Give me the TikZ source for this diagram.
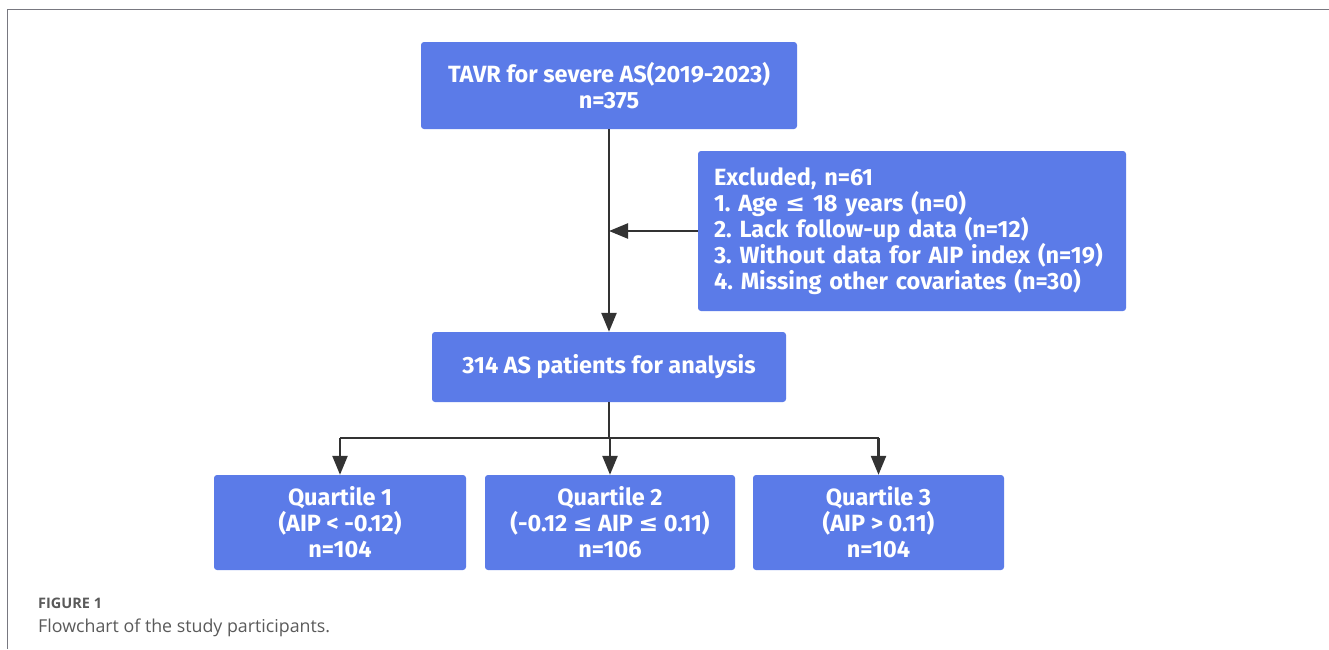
\documentclass[tikz,border=0pt]{standalone}
\usepackage{fontspec}
\setmainfont{Fira Sans}[BoldFont={* Bold}]
\newfontfamily\capfont{Open Sans}
\newfontfamily\symf{DejaVu Sans}
\usetikzlibrary{arrows.meta,positioning}
\definecolor{boxblue}{RGB}{91,123,232}
\definecolor{linegray}{RGB}{51,51,51}
\definecolor{framegray}{RGB}{120,120,128}
\definecolor{capgray}{RGB}{90,90,90}
\newcommand{\leqs}{{\symf\bfseries ≤}}
\frenchspacing
\begin{document}
\begin{tikzpicture}[x=1pt,y=-1pt,
  bluebox/.style={fill=boxblue,rounded corners=3pt,text=white,font=\fontsize{23.5}{26}\selectfont\bfseries,inner sep=0pt},
  conn/.style={draw=linegray,line width=2.4pt},
  arr/.style={conn,-{Triangle[length=19pt,width=15pt]}}]
\useasboundingbox (0,0) rectangle (1329,649);
\draw[framegray,line width=1.5pt] (1329,9.5) -- (7.5,9.5) -- (7.5,649);
% boxes
\node[bluebox,minimum width=376pt,minimum height=87pt,align=center] (top) at (609,85.5) {TAVR for severe AS(2019-2023)\\n=375};
\node[bluebox,minimum width=428pt,minimum height=160pt,align=left,text width=396pt] (exc) at (912,231) {Excluded, n=61\\1. Age \leqs{} 18 years (n=0)\\2. Lack follow-up data (n=12)\\3. Without data for AIP index (n=19)\\4. Missing other covariates (n=30)};
\node[bluebox,minimum width=354pt,minimum height=70pt] (mid) at (609,367) {314 AS patients for analysis};
\node[bluebox,minimum width=252pt,minimum height=95pt,align=center] (q1) at (340,522.5) {Quartile 1\\(AIP < -0.12)\\n=104};
\node[bluebox,minimum width=250pt,minimum height=95pt,align=center] (q2) at (610,522.5) {Quartile 2\\(-0.12 \leqs{} AIP \leqs{} 0.11)\\n=106};
\node[bluebox,minimum width=251pt,minimum height=95pt,align=center] (q3) at (878.5,522.5) {Quartile 3\\(AIP > 0.11)\\n=104};
% connectors
\coordinate (j1) at (609,231);
\coordinate (split) at (609,438);
\draw[arr] (top.south) -- (mid.north);
\draw[arr] (exc.west) -- (j1);
\draw[conn] (mid.south) -- (split);
\draw[conn] (split -| q1.north) -- (split -| q3.north);
\draw[arr] (split -| q1.north) -- (q1.north);
\draw[arr] (split -| q2.north) -- (q2.north);
\draw[arr] (split -| q3.north) -- (q3.north);
% caption
\node[anchor=base west,inner sep=0pt,text=capgray,font=\capfont\fontsize{14.5}{16}\selectfont\bfseries] (figlab) at (38,608) {FIGURE 1};
\node[anchor=base west,inner sep=0pt,text=capgray,font=\capfont\fontsize{17.8}{20}\selectfont] (figcap) at (38,632) {Flowchart of the study participants.};
\end{tikzpicture}
\end{document}
